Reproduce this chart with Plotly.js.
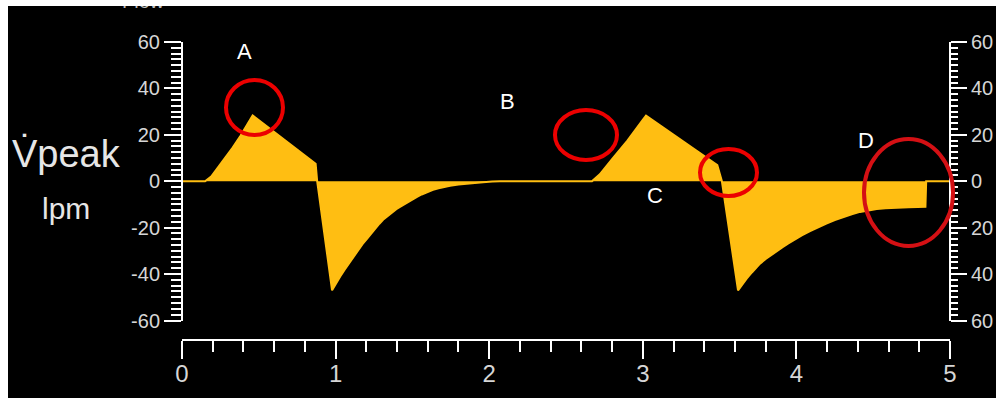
<!DOCTYPE html>
<html>
<head>
<meta charset="utf-8">
<script src="https://cdn.plot.ly/plotly-3.0.1.min.js"></script>
<style>
  html, body { margin: 0; padding: 0; background: #ffffff; width: 996px; height: 398px; overflow: hidden; }
  #chart { position: absolute; left: 8px; top: 6px; width: 988px; height: 392px; overflow: hidden; background: #000; }
</style>
</head>
<body>
<div id="chart"></div>
<script>
// ---- data (time in s, flow in lpm) ----
const timeSec = [0, 0.15, 0.19, 0.23, 0.28, 0.33, 0.38, 0.42, 0.46, 0.87, 0.88, 0.977,
                 1.00, 1.03, 1.06, 1.094, 1.12, 1.15, 1.175, 1.204, 1.23, 1.26, 1.285, 1.309, 1.34, 1.37, 1.395, 1.419,
                 1.45, 1.48, 1.505, 1.53, 1.56, 1.59, 1.61, 1.634, 1.67, 1.70, 1.745, 1.80, 1.855, 1.91, 1.96, 2.02, 2.07,
                 2.669, 2.72, 2.80, 2.90, 3.00, 3.021, 3.485, 3.515, 3.62,
                 3.645, 3.676, 3.71, 3.735, 3.763, 3.80, 3.835, 3.872, 3.91, 3.945, 3.98, 4.035, 4.089, 4.14, 4.195,
                 4.25, 4.306, 4.36, 4.414, 4.47, 4.523, 4.58, 4.63, 4.73, 4.84, 4.845, 5.0];
const flowLpm = [0, 0, 2, 5.5, 10, 14.5, 19.5, 24, 28.3, 7.5, 0, -47,
                 -44.3, -41, -38, -34.7, -32.1, -29.4, -27.1, -24.8, -22.6, -20.2, -18.3, -16.6, -14.9, -13.2, -12.0, -11,
                 -9.7, -8.5, -7.6, -6.7, -5.7, -4.8, -4.3, -3.7, -3.0, -2.5, -1.9, -1.4, -1.0, -0.7, -0.4, -0.15, 0,
                 0, 3, 9.5, 17.5, 26.5, 28.3, 7, 0, -47,
                 -44.7, -42, -39.3, -37.4, -35.5, -33.5, -31.8, -30.1, -28.4, -26.9, -25.4, -23.3, -21.5, -19.8, -18.2,
                 -16.7, -15.3, -14.2, -13.2, -12.5, -12, -11.6, -11.4, -11.2, -11, 0, 0];

const xTickVals = [0, 1, 2, 3, 4, 5];
const xTickText = ['0', '1', '2', '3', '4', '5'];
const yTickVals = [-60, -40, -20, 0, 20, 40, 60];
const yTickTextLeft = ['-60', '-40', '-20', '0', '20', '40', '60'];
const yTickTextRight = ['60', '40', '20', '0', '20', '40', '60'];

const markLabels = ['A', 'B', 'C', 'D'];
const yTitleMain = 'V\u0307peak';
const yTitleUnit = 'lpm';
const topTitle = 'Flow';

// ---- layout helpers (page pixels -> paper fractions of the plot area) ----
const PX0 = 182, PX1 = 950, PY0 = 42, PY1 = 340;
const fx = px => (px - PX0) / (PX1 - PX0);
const fy = py => (PY1 - py) / (PY1 - PY0);

const yellow = '#FFBE12';
const tickFontY = { family: 'Liberation Sans, Arial, sans-serif', size: 20, color: '#d6d6d6' };
const tickFontX = { family: 'Liberation Sans Narrow, Liberation Sans, Arial, sans-serif', size: 24, color: '#d6d6d6' };

const trace = {
  x: timeSec, y: flowLpm, type: 'scatter', mode: 'lines',
  line: { color: yellow, width: 2, shape: 'linear' },
  fill: 'tozeroy', fillcolor: yellow, hoverinfo: 'skip'
};
const traceRight = { x: [0], y: [0], yaxis: 'y2', type: 'scatter', mode: 'markers', marker: { opacity: 0 }, hoverinfo: 'skip' };

const ellipses = [
  { x0: 226, x1: 283, y0: 80, y1: 135, c: 'rgb(236,0,0)' },
  { x0: 555, x1: 617, y0: 110, y1: 160, c: 'rgb(236,0,0)' },
  { x0: 700, x1: 757, y0: 149, y1: 196, c: 'rgb(236,0,0)' },
  { x0: 864, x1: 953, y0: 139, y1: 246, c: 'rgb(212,16,20)' }
];
const labelPos = [[244, 51], [507, 101], [655, 195], [866, 140]];

const shapes = ellipses.map(e => ({
  type: 'circle', xref: 'paper', yref: 'paper',
  x0: fx(e.x0), x1: fx(e.x1), y0: fy(e.y1), y1: fy(e.y0),
  line: { color: e.c, width: 4 }, layer: 'above'
}));

const annotations = markLabels.map((t, i) => ({
  text: t, xref: 'paper', yref: 'paper', x: fx(labelPos[i][0]), y: fy(labelPos[i][1]),
  xanchor: 'center', yanchor: 'middle', showarrow: false,
  font: { family: 'Liberation Sans, Arial, sans-serif', size: 22, color: '#ffffff' }
}));
annotations.push({
  text: yTitleMain, xref: 'paper', yref: 'paper', x: fx(66), y: fy(154),
  xanchor: 'center', yanchor: 'middle', showarrow: false,
  font: { family: 'Liberation Sans, Arial, sans-serif', size: 38, color: '#e6e6e6' }
});
annotations.push({
  text: yTitleUnit, xref: 'paper', yref: 'paper', x: fx(66), y: fy(208.6),
  xanchor: 'center', yanchor: 'middle', showarrow: false,
  font: { family: 'Liberation Sans, Arial, sans-serif', size: 30, color: '#e6e6e6' }
});
annotations.push({
  text: topTitle, xref: 'paper', yref: 'paper', x: fx(143), y: fy(14),
  xanchor: 'center', yanchor: 'bottom', showarrow: false,
  font: { family: 'Liberation Sans, Arial, sans-serif', size: 20, color: '#bdbdbd' }
});

const yDomain = [fy(320.5), 1];

const layout = {
  width: 988, height: 392,
  paper_bgcolor: '#000000', plot_bgcolor: '#000000',
  margin: { l: 174, r: 46, t: 36, b: 58, pad: 0 },
  showlegend: false,
  xaxis: {
    range: [0, 5], anchor: 'free', position: 0, automargin: false,
    showgrid: false, zeroline: false, showline: true, linecolor: '#ffffff', linewidth: 2,
    ticks: 'outside', ticklen: 18, tickwidth: 2, tickcolor: '#ffffff', ticklabelstandoff: -6,
    tickmode: 'array', tickvals: xTickVals, ticktext: xTickText, tickfont: tickFontX,
    minor: { tickmode: 'linear', tick0: 0, dtick: 0.2, ticks: 'outside', ticklen: 11, tickwidth: 2, tickcolor: '#ffffff', showgrid: false }
  },
  yaxis: {
    range: [-60, 60], domain: yDomain, anchor: 'free', position: 0, side: 'left', automargin: false,
    showgrid: false, zeroline: false, showline: true, linecolor: '#ffffff', linewidth: 2,
    ticks: 'outside', ticklen: 17, tickwidth: 2, tickcolor: '#ffffff',
    tickmode: 'array', tickvals: yTickVals, ticktext: yTickTextLeft, tickfont: tickFontY,
    minor: { tickmode: 'linear', tick0: 0, dtick: 2.5, ticks: 'outside', ticklen: 10, tickwidth: 2, tickcolor: '#ffffff', showgrid: false }
  },
  yaxis2: {
    range: [-60, 60], overlaying: 'y', anchor: 'free', position: 1, side: 'right', automargin: false,
    showgrid: false, zeroline: false, showline: true, linecolor: '#ffffff', linewidth: 2,
    ticks: 'outside', ticklen: 16, tickwidth: 2, tickcolor: '#ffffff', ticklabelstandoff: 0,
    tickmode: 'array', tickvals: yTickVals, ticktext: yTickTextRight, tickfont: tickFontY,
    minor: { tickmode: 'linear', tick0: 0, dtick: 2.5, ticks: 'outside', ticklen: 7, tickwidth: 2, tickcolor: '#ffffff', showgrid: false }
  },
  shapes: shapes,
  annotations: annotations
};

Plotly.newPlot('chart', [trace, traceRight], layout, { staticPlot: true, displayModeBar: false });
</script>
</body>
</html>
